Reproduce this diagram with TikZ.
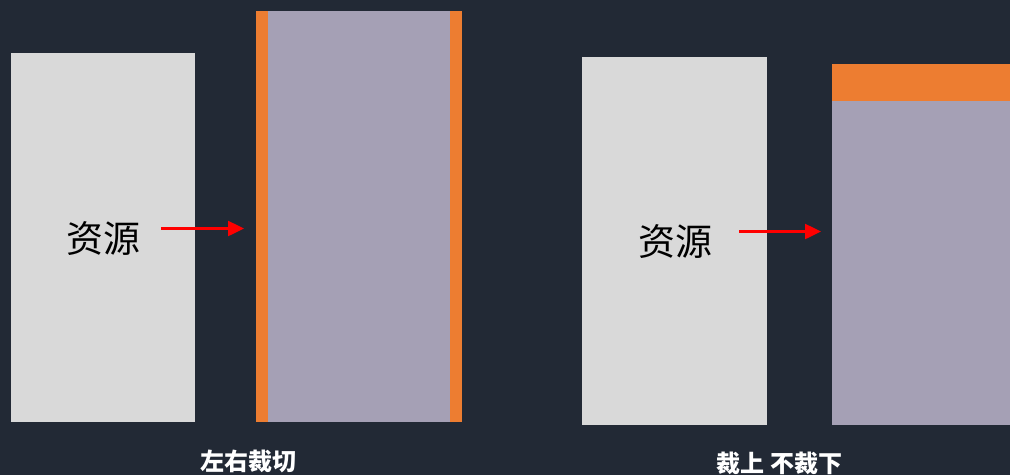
\documentclass[tikz,border=0pt]{standalone}
\usepackage{fontspec}
\newfontfamily\cjk{Noto Sans CJK SC}
\usetikzlibrary{arrows.meta}
\definecolor{bg}{HTML}{222935}
\definecolor{resgray}{HTML}{D9D9D9}
\definecolor{cutpurple}{HTML}{A5A0B5}
\definecolor{cutorange}{HTML}{ED7D31}
\tikzset{
  box/.style={draw=none, inner sep=0pt, outer sep=0pt},
  redarrow/.style={draw=red, line width=2.5pt, -{Triangle[length=16pt,width=15pt]}},
  reslabel/.style={font=\cjk\fontsize{37}{40}\selectfont, text=black},
  caption/.style={font=\cjk\bfseries\fontsize{24}{27}\selectfont, text=white}
}
\begin{document}
\begin{tikzpicture}[x=1pt,y=-1pt]
\fill[bg] (0,0) rectangle (1010,475);
\useasboundingbox (0,0) rectangle (1010,475);
% left pair
\fill[resgray] (11,53) rectangle (195,422);
\node[reslabel] (res1) at (103.5,239) {资源};
\fill[cutorange] (256,11) rectangle (462,422);
\fill[cutpurple] (268,11) rectangle (450,422);
\coordinate (a1s) at (161,228.5);
\coordinate (a1e) at (244,228.5);
\draw[redarrow] (a1s) -- (a1e);
\node[caption] (cap1) at (248,461) {左右裁切};
% right pair
\fill[resgray] (582,57) rectangle (767,425);
\node[reslabel] (res2) at (675.5,241.5) {资源};
\fill[cutpurple] (832,64) rectangle (1010,425);
\fill[cutorange] (832,64) rectangle (1010,101);
\coordinate (a2s) at (739,231.5);
\coordinate (a2e) at (821,231.5);
\draw[redarrow] (a2s) -- (a2e);
\node[caption] (cap2) at (779.5,463) {裁上 不裁下};
\end{tikzpicture}
\end{document}
